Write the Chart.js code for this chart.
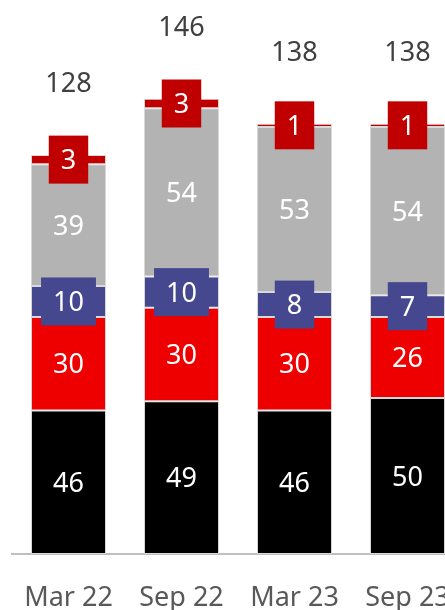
<!DOCTYPE html>
<html>
<head>
<meta charset="utf-8">
<script src="https://cdn.jsdelivr.net/npm/chart.js@4.4.0/dist/chart.umd.min.js"></script>
<style>
  html, body { margin:0; padding:0; background:#fff; overflow:hidden; width:445px; height:610px; }
  #wrap { position:absolute; left:0; top:0; width:464px; height:610px; }
</style>
</head>
<body>
<div id="wrap"><canvas id="c"></canvas></div>
<script>
const categories = ['Mar 22', 'Sep 22', 'Mar 23', 'Sep 23'];
const blackVals = [46, 49, 46, 50];
const redVals = [30, 30, 30, 26];
const blueVals = [10, 10, 8, 7];
const greyVals = [39, 54, 53, 54];
const darkRedVals = [3, 3, 1, 1];
const totals = [128, 146, 138, 138];

const FONT = '"Noto Sans", sans-serif';

// white numbers inside each segment, some on a coloured box, plus totals on top
const segmentLabels = {
  id: 'segmentLabels',
  afterDatasetsDraw(chart) {
    const ctx = chart.ctx;
    ctx.save();
    ctx.font = '27px ' + FONT;
    ctx.textAlign = 'center';
    ctx.textBaseline = 'alphabetic';
    chart.data.datasets.forEach((ds, i) => {
      const meta = chart.getDatasetMeta(i);
      meta.data.forEach((bar, j) => {
        const txt = String(ds.data[j]);
        const cy = (bar.y + bar.base) / 2;
        if (ds.boxed) {
          const w = ctx.measureText(txt).width + 24;
          ctx.fillStyle = ds.backgroundColor;
          ctx.fillRect(bar.x - w / 2, cy - 24, w, 48);
        }
        ctx.fillStyle = '#ffffff';
        ctx.fillText(txt, bar.x, cy + 9.5);
      });
    });
    const yScale = chart.scales.y;
    const meta0 = chart.getDatasetMeta(0);
    ctx.fillStyle = '#404040';
    totals.forEach((t, j) => {
      const y = yScale.getPixelForValue(t) - 72;
      ctx.fillText(String(t), meta0.data[j].x, y + 9.5);
    });
    ctx.restore();
  }
};

const mk = (label, data, color, boxed) => ({
  label, data, boxed,
  backgroundColor: color,
  borderColor: '#d9d9d9',
  borderWidth: 1,
  borderSkipped: false,
  categoryPercentage: 1,
  barPercentage: 0.664
});

new Chart(document.getElementById('c'), {
  type: 'bar',
  data: {
    labels: categories,
    datasets: [
      mk('A', blackVals, '#000000', false),
      mk('B', redVals, '#ee0000', false),
      mk('C', blueVals, '#45478f', true),
      mk('D', greyVals, '#b3b3b3', false),
      mk('E', darkRedVals, '#c00000', true)
    ]
  },
  options: {
    responsive: true,
    maintainAspectRatio: false,
    animation: false,
    layout: { padding: { left: 12, right: 0, top: 0, bottom: 0 } },
    plugins: { legend: { display: false }, tooltip: { enabled: false } },
    scales: {
      x: {
        stacked: true,
        grid: { display: false, drawTicks: false },
        border: { display: true, color: '#bfbfbf', width: 2 },
        ticks: { color: '#595959', font: { family: FONT, size: 27 }, padding: 28, maxRotation: 0, autoSkip: false },
        afterFit(scale) {
          scale.height = 56;
          scale.paddingLeft = 0;
          scale.paddingRight = 0;
          scale.paddingTop = 0;
          scale.paddingBottom = 0;
        }
      },
      y: {
        stacked: true,
        display: false,
        min: 0,
        max: 177.7
      }
    }
  },
  plugins: [segmentLabels]
});
</script>
</body>
</html>
